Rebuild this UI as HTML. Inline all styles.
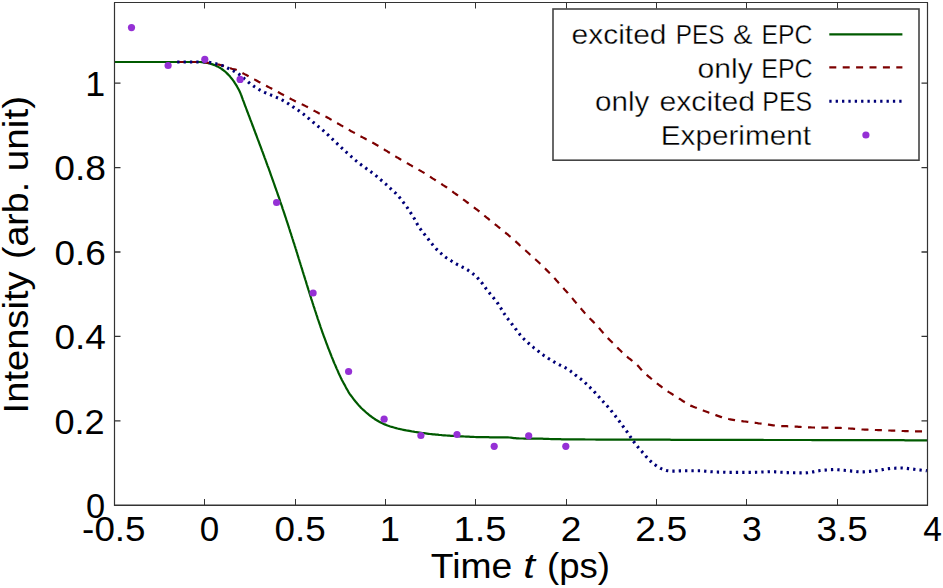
<!DOCTYPE html>
<html><head><meta charset="utf-8"><style>
html,body{margin:0;padding:0;background:#fff;}
svg{display:block;font-family:"Liberation Sans",sans-serif;}
</style></head><body>
<svg width="943" height="588" viewBox="0 0 943 588">
<rect x="0" y="0" width="943" height="588" fill="#fff"/>
<path d="M204.50 505.0v-6M204.50 2.5v6M295.50 505.0v-6M295.50 2.5v6M385.50 505.0v-6M385.50 2.5v6M475.50 505.0v-6M475.50 2.5v6M566.50 505.0v-6M566.50 2.5v6M656.50 505.0v-6M656.50 2.5v6M746.50 505.0v-6M746.50 2.5v6M837.50 505.0v-6M837.50 2.5v6" stroke="#333" stroke-width="1" fill="none"/>
<path d="M114.5 420.80h6M927.5 420.80h-6M114.5 336.40h6M927.5 336.40h-6M114.5 252.00h6M927.5 252.00h-6M114.5 167.60h6M927.5 167.60h-6M114.5 83.20h6M927.5 83.20h-6" stroke="#333" stroke-width="1.3" fill="none"/>
<defs><clipPath id="c"><rect x="114.5" y="2.6" width="813" height="502.4"/></clipPath></defs>
<g clip-path="url(#c)" fill="none" stroke-linejoin="round">
<path d="M114.5 62.0 116.3 62.0 117.6 62.0 119.0 62.0 120.5 62.0 122.0 62.0 123.5 62.0 125.0 62.0 126.5 62.0 128.0 62.0 129.5 62.0 131.0 62.0 132.5 62.0 134.0 62.0 135.5 62.0 137.0 62.0 138.5 62.0 140.0 62.0 141.5 62.0 143.0 62.0 144.5 62.0 146.0 62.0 147.5 62.0 149.0 62.0 150.5 62.0 152.0 62.0 153.5 62.0 155.0 62.0 156.5 62.0 158.0 62.0 159.5 62.0 161.0 62.0 162.5 62.0 164.0 62.0 165.5 62.0 167.0 62.0 168.5 62.0 170.0 62.0 171.5 62.0 173.0 62.0 174.5 62.0 176.0 62.0 177.5 62.0 179.0 62.0 180.5 62.0 182.0 62.0 183.5 62.0 185.0 62.0 186.5 62.0 188.0 62.0 189.5 62.0 191.0 62.0 192.5 62.0 194.0 62.0 195.5 62.0 197.0 62.0 198.5 62.0 200.0 62.0 201.5 62.1 203.0 62.2 204.5 62.4 205.9 62.7 207.4 63.0 208.9 63.3 210.3 63.7 211.8 64.1 213.2 64.6 214.6 65.1 215.9 65.7 217.3 66.4 218.6 67.1 219.9 67.8 221.2 68.6 222.4 69.5 223.6 70.4 224.8 71.3 225.9 72.3 227.0 73.4 228.0 74.4 229.1 75.5 230.1 76.6 231.0 77.8 232.0 78.9 232.9 80.1 233.8 81.3 234.6 82.6 235.4 83.8 236.2 85.1 237.0 86.4 237.7 87.7 238.4 89.0 239.1 90.3 239.8 91.7 240.4 93.1 240.9 94.4 241.5 95.8 242.0 97.3 242.5 98.7 243.0 100.1 243.6 101.5 244.1 102.9 244.6 104.3 245.1 105.7 245.7 107.1 246.2 108.5 246.7 109.9 247.2 111.3 247.8 112.7 248.3 114.1 248.8 115.5 249.4 116.9 249.9 118.3 250.4 119.7 251.0 121.1 251.5 122.5 252.0 123.9 252.5 125.3 253.1 126.7 253.6 128.1 254.1 129.5 254.7 131.0 255.2 132.4 255.7 133.8 256.3 135.2 256.8 136.6 257.3 138.0 257.8 139.4 258.4 140.8 258.9 142.2 259.4 143.6 259.9 145.0 260.5 146.4 261.0 147.8 261.5 149.2 262.0 150.6 262.6 152.0 263.1 153.4 263.6 154.8 264.1 156.2 264.6 157.6 265.2 159.1 265.7 160.5 266.2 161.9 266.7 163.3 267.2 164.7 267.7 166.1 268.3 167.5 268.8 168.9 269.3 170.3 269.8 171.7 270.3 173.1 270.8 174.6 271.3 176.0 271.8 177.4 272.3 178.8 272.8 180.2 273.3 181.6 273.8 183.0 274.3 184.4 274.8 185.9 275.3 187.3 275.8 188.7 276.3 190.1 276.8 191.5 277.3 192.9 277.8 194.4 278.3 195.8 278.8 197.2 279.3 198.6 279.8 200.0 280.2 201.5 280.7 202.9 281.2 204.3 281.7 205.7 282.2 207.1 282.6 208.6 283.1 210.0 283.6 211.4 284.1 212.8 284.5 214.2 285.0 215.7 285.5 217.1 286.0 218.5 286.4 219.9 286.9 221.4 287.4 222.8 287.8 224.2 288.3 225.6 288.8 227.1 289.2 228.5 289.7 229.9 290.1 231.4 290.6 232.8 291.1 234.2 291.5 235.6 292.0 237.1 292.4 238.5 292.9 239.9 293.3 241.4 293.8 242.8 294.3 244.2 294.7 245.6 295.2 247.1 295.6 248.5 296.1 249.9 296.5 251.4 297.0 252.8 297.4 254.2 297.8 255.7 298.3 257.1 298.7 258.5 299.2 260.0 299.6 261.4 300.1 262.8 300.5 264.3 301.0 265.7 301.4 267.1 301.9 268.6 302.3 270.0 302.7 271.4 303.2 272.9 303.6 274.3 304.1 275.7 304.5 277.2 305.0 278.6 305.4 280.0 305.9 281.4 306.3 282.9 306.7 284.3 307.2 285.7 307.6 287.2 308.1 288.6 308.5 290.0 309.0 291.5 309.4 292.9 309.9 294.3 310.3 295.8 310.8 297.2 311.2 298.6 311.7 300.1 312.2 301.5 312.6 302.9 313.1 304.3 313.5 305.8 314.0 307.2 314.5 308.6 314.9 310.0 315.4 311.5 315.9 312.9 316.3 314.3 316.8 315.7 317.3 317.2 317.7 318.6 318.2 320.0 318.7 321.4 319.2 322.9 319.7 324.3 320.2 325.7 320.6 327.1 321.1 328.5 321.6 329.9 322.1 331.4 322.6 332.8 323.1 334.2 323.6 335.6 324.1 337.0 324.7 338.4 325.2 339.8 325.7 341.2 326.2 342.6 326.7 344.0 327.3 345.4 327.8 346.8 328.3 348.3 328.9 349.6 329.4 351.0 330.0 352.4 330.5 353.8 331.1 355.2 331.6 356.6 332.2 358.0 332.8 359.4 333.3 360.8 333.9 362.2 334.5 363.6 335.1 364.9 335.7 366.3 336.3 367.7 336.9 369.1 337.5 370.4 338.1 371.8 338.7 373.2 339.3 374.5 340.0 375.9 340.6 377.3 341.2 378.6 341.9 380.0 342.6 381.3 343.3 382.6 344.0 383.9 344.8 385.2 345.5 386.6 346.2 387.9 346.9 389.2 347.7 390.5 348.4 391.8 349.2 393.1 350.0 394.3 350.9 395.5 351.8 396.7 352.7 397.9 353.6 399.1 354.5 400.3 355.5 401.5 356.4 402.6 357.4 403.7 358.4 404.9 359.4 406.0 360.4 407.1 361.5 408.2 362.6 409.2 363.6 410.2 364.8 411.2 365.9 412.2 367.0 413.2 368.2 414.2 369.3 415.1 370.5 416.0 371.7 416.9 372.9 417.8 374.2 418.6 375.4 419.5 376.7 420.2 378.0 421.0 379.3 421.8 380.6 422.5 381.9 423.1 383.3 423.8 384.7 424.4 386.1 424.9 387.5 425.5 388.9 426.0 390.3 426.5 391.7 426.9 393.2 427.3 394.6 427.7 396.1 428.1 397.5 428.5 399.0 428.8 400.4 429.2 401.9 429.5 403.4 429.8 404.8 430.1 406.3 430.4 407.8 430.6 409.3 430.9 410.7 431.2 412.2 431.5 413.7 431.7 415.2 432.0 416.6 432.2 418.1 432.4 419.6 432.6 421.1 432.8 422.6 433.0 424.1 433.2 425.6 433.4 427.0 433.6 428.5 433.8 430.0 434.0 431.5 434.1 433.0 434.3 434.5 434.4 436.0 434.6 437.5 434.7 439.0 434.9 440.5 435.0 442.0 435.2 443.5 435.3 445.0 435.4 446.5 435.5 447.9 435.6 449.4 435.7 450.9 435.8 452.4 435.9 453.9 436.0 455.4 436.0 456.9 436.1 458.4 436.2 459.9 436.3 461.4 436.4 462.9 436.4 464.4 436.5 465.9 436.6 467.4 436.7 468.9 436.7 470.4 436.8 471.9 436.9 473.4 436.9 474.9 437.0 476.4 437.1 477.9 437.1 479.4 437.1 480.9 437.2 482.4 437.2 483.9 437.2 485.4 437.2 486.9 437.2 488.4 437.2 489.9 437.3 491.4 437.3 492.9 437.3 494.4 437.3 495.9 437.3 497.4 437.3 498.9 437.3 500.4 437.3 501.9 437.4 503.4 437.4 504.9 437.4 506.4 437.4 507.9 437.4 509.4 437.5 510.9 437.7 512.4 437.9 513.9 438.1 515.3 438.2 516.8 438.4 518.3 438.4 519.8 438.5 521.3 438.5 522.8 438.5 524.3 438.6 525.8 438.6 527.3 438.6 528.8 438.6 530.3 438.6 531.8 438.6 533.3 438.6 534.8 438.7 536.3 438.7 537.8 438.7 539.3 438.7 540.8 438.7 542.3 438.7 543.8 438.8 545.3 438.8 546.8 438.9 548.3 438.9 549.8 439.0 551.3 439.1 552.8 439.1 554.3 439.2 555.8 439.2 557.3 439.2 558.8 439.2 560.3 439.2 561.8 439.3 563.3 439.3 564.8 439.3 566.3 439.3 567.8 439.3 569.3 439.3 570.8 439.3 572.3 439.3 573.8 439.4 575.3 439.4 576.8 439.4 578.3 439.4 579.8 439.4 581.3 439.4 582.8 439.4 584.3 439.4 585.8 439.5 587.3 439.5 588.8 439.5 590.3 439.5 591.8 439.5 593.3 439.5 594.8 439.5 596.3 439.6 597.8 439.6 599.3 439.6 600.8 439.6 602.3 439.6 603.8 439.6 605.3 439.6 606.8 439.6 608.3 439.6 609.8 439.6 611.3 439.6 612.8 439.6 614.3 439.6 615.8 439.6 617.3 439.6 618.8 439.6 620.3 439.6 621.8 439.6 623.3 439.6 624.8 439.7 626.3 439.7 627.8 439.7 629.3 439.7 630.8 439.7 632.3 439.7 633.8 439.7 635.3 439.7 636.8 439.7 638.3 439.7 639.8 439.7 641.3 439.7 642.8 439.7 644.3 439.7 645.8 439.7 647.3 439.7 648.8 439.7 650.3 439.7 651.8 439.7 653.3 439.7 654.8 439.7 656.3 439.7 657.8 439.7 659.3 439.7 660.8 439.7 662.3 439.7 663.8 439.7 665.3 439.7 666.8 439.7 668.3 439.7 669.8 439.7 671.3 439.8 672.8 439.8 674.3 439.8 675.8 439.8 677.3 439.8 678.8 439.8 680.3 439.8 681.8 439.8 683.3 439.8 684.8 439.8 686.3 439.8 687.8 439.8 689.3 439.8 690.8 439.8 692.3 439.8 693.8 439.8 695.3 439.8 696.8 439.8 698.3 439.8 699.8 439.8 701.3 439.8 702.8 439.8 704.3 439.8 705.8 439.8 707.3 439.8 708.8 439.8 710.3 439.8 711.8 439.8 713.3 439.8 714.8 439.8 716.3 439.8 717.8 439.9 719.3 439.9 720.8 439.9 722.3 439.9 723.8 439.9 725.3 439.9 726.8 439.9 728.3 439.9 729.8 439.9 731.3 439.9 732.8 439.9 734.3 439.9 735.8 439.9 737.3 439.9 738.8 439.9 740.3 439.9 741.8 439.9 743.3 439.9 744.8 439.9 746.3 439.9 747.8 439.9 749.3 439.9 750.8 439.9 752.3 439.9 753.8 439.9 755.3 439.9 756.8 439.9 758.3 439.9 759.8 439.9 761.3 439.9 762.8 439.9 764.3 440.0 765.8 440.0 767.3 440.0 768.8 440.0 770.3 440.0 771.8 440.0 773.3 440.0 774.8 440.0 776.3 440.0 777.8 440.0 779.3 440.0 780.8 440.0 782.3 440.0 783.8 440.0 785.3 440.0 786.8 440.0 788.3 440.0 789.8 440.0 791.3 440.0 792.8 440.0 794.3 440.0 795.8 440.0 797.3 440.0 798.8 440.0 800.3 440.0 801.8 440.0 803.3 440.0 804.8 440.0 806.3 440.0 807.8 440.0 809.3 440.0 810.8 440.0 812.3 440.1 813.8 440.1 815.3 440.1 816.8 440.1 818.3 440.1 819.8 440.1 821.3 440.1 822.8 440.1 824.3 440.1 825.8 440.1 827.3 440.1 828.8 440.1 830.3 440.1 831.8 440.1 833.3 440.1 834.8 440.1 836.3 440.1 837.8 440.1 839.3 440.1 840.8 440.1 842.3 440.1 843.8 440.1 845.3 440.1 846.8 440.1 848.3 440.1 849.8 440.1 851.3 440.1 852.8 440.1 854.3 440.1 855.8 440.1 857.3 440.1 858.8 440.2 860.3 440.2 861.8 440.2 863.3 440.2 864.8 440.2 866.3 440.2 867.8 440.2 869.3 440.2 870.8 440.2 872.3 440.2 873.8 440.2 875.3 440.2 876.8 440.2 878.3 440.2 879.8 440.2 881.3 440.2 882.8 440.2 884.3 440.2 885.8 440.2 887.3 440.2 888.8 440.2 890.3 440.2 891.8 440.2 893.3 440.2 894.8 440.2 896.3 440.2 897.8 440.2 899.3 440.2 900.8 440.2 902.3 440.2 903.8 440.2 905.3 440.3 906.8 440.3 908.3 440.3 909.8 440.3 911.3 440.3 912.8 440.3 914.3 440.3 915.8 440.3 917.3 440.3 918.8 440.3 920.3 440.3 921.8 440.3 923.3 440.3 924.7 440.3 925.9 440.3 927.5 440.3" stroke="#005a00" stroke-width="2.2"/>
<path d="M177.2 62.0 178.8 62.0 180.2 62.0 181.7 62.0 183.2 62.0 184.7 62.0 186.2 62.0 187.7 62.0 189.2 62.0 190.7 62.0 192.2 62.0 193.7 62.0 195.2 62.0 196.7 62.0 198.2 62.0 199.7 62.0 201.2 62.0 202.7 62.0 204.2 62.1 205.7 62.3 207.1 62.6 208.6 62.9 210.1 63.1 211.5 63.4 213.0 63.6 214.5 63.9 216.0 64.1 217.5 64.4 218.9 64.6 220.4 65.0 221.8 65.4 223.3 65.9 224.7 66.3 226.1 66.8 227.5 67.3 228.9 67.8 230.4 68.2 231.8 68.7 233.2 69.1 234.7 69.4 236.1 69.8 237.5 70.4 238.8 71.1 240.1 71.8 241.5 72.5 242.8 73.2 244.1 73.9 245.4 74.6 246.8 75.3 248.1 76.0 249.4 76.8 250.7 77.5 252.0 78.2 253.4 78.9 254.7 79.6 256.0 80.3 257.3 81.0 258.6 81.7 260.0 82.4 261.3 83.1 262.6 83.9 263.9 84.6 265.2 85.3 266.6 86.0 267.9 86.7 269.2 87.4 270.5 88.1 271.9 88.8 273.2 89.5 274.5 90.2 275.8 90.9 277.2 91.6 278.5 92.3 279.8 93.0 281.1 93.7 282.5 94.4 283.8 95.2 285.1 95.9 286.4 96.6 287.7 97.3 289.1 98.0 290.4 98.7 291.7 99.4 293.0 100.1 294.4 100.8 295.7 101.4 297.1 102.1 298.4 102.7 299.8 103.3 301.2 104.0 302.5 104.6 303.9 105.2 305.2 105.9 306.5 106.6 307.9 107.3 309.2 108.0 310.5 108.8 311.8 109.5 313.1 110.2 314.5 110.9 315.8 111.6 317.1 112.3 318.4 113.0 319.8 113.7 321.1 114.3 322.5 115.0 323.8 115.7 325.1 116.4 326.5 117.0 327.8 117.7 329.1 118.4 330.4 119.2 331.7 119.9 333.0 120.7 334.3 121.4 335.6 122.2 336.9 122.9 338.2 123.7 339.5 124.4 340.8 125.2 342.1 125.9 343.4 126.7 344.7 127.4 346.0 128.2 347.3 128.9 348.6 129.7 349.9 130.4 351.2 131.2 352.5 131.9 353.8 132.6 355.2 133.3 356.5 134.1 357.8 134.8 359.1 135.5 360.4 136.2 361.8 136.9 363.1 137.6 364.4 138.3 365.7 139.0 367.1 139.7 368.4 140.5 369.7 141.2 371.0 141.9 372.3 142.6 373.7 143.3 375.0 144.0 376.3 144.8 377.6 145.5 378.9 146.3 380.1 147.1 381.4 147.8 382.7 148.6 384.0 149.4 385.3 150.2 386.6 150.9 387.8 151.7 389.1 152.5 390.4 153.3 391.7 154.1 393.0 154.8 394.3 155.6 395.5 156.4 396.8 157.2 398.1 157.9 399.4 158.7 400.7 159.5 402.0 160.2 403.3 161.0 404.6 161.7 405.9 162.4 407.2 163.2 408.5 163.9 409.8 164.7 411.1 165.4 412.4 166.2 413.7 166.9 415.0 167.7 416.3 168.4 417.6 169.1 418.9 169.9 420.2 170.6 421.5 171.4 422.8 172.1 424.1 172.9 425.4 173.7 426.6 174.5 427.9 175.3 429.2 176.1 430.4 176.9 431.7 177.8 432.9 178.6 434.2 179.4 435.5 180.2 436.7 181.0 438.0 181.8 439.3 182.6 440.5 183.4 441.8 184.2 443.0 185.1 444.3 185.9 445.6 186.7 446.8 187.5 448.0 188.4 449.3 189.2 450.5 190.1 451.7 191.0 452.9 191.9 454.1 192.8 455.3 193.6 456.5 194.5 457.8 195.4 459.0 196.3 460.2 197.2 461.4 198.1 462.6 198.9 463.8 199.8 465.0 200.7 466.2 201.6 467.4 202.5 468.6 203.4 469.8 204.3 471.0 205.2 472.2 206.1 473.4 207.0 474.6 207.9 475.8 208.8 477.0 209.7 478.2 210.6 479.4 211.5 480.6 212.5 481.7 213.4 482.9 214.4 484.0 215.4 485.2 216.3 486.3 217.3 487.5 218.2 488.7 219.2 489.8 220.1 491.0 221.1 492.2 222.0 493.3 222.9 494.5 223.9 495.7 224.8 496.9 225.7 498.0 226.7 499.2 227.6 500.4 228.5 501.6 229.5 502.7 230.4 503.9 231.4 505.0 232.3 506.2 233.3 507.3 234.2 508.5 235.2 509.6 236.2 510.8 237.1 511.9 238.1 513.1 239.1 514.2 240.1 515.3 241.1 516.4 242.1 517.5 243.1 518.6 244.1 519.7 245.2 520.8 246.2 521.9 247.2 523.0 248.2 524.1 249.2 525.3 250.2 526.4 251.2 527.5 252.2 528.6 253.2 529.7 254.3 530.8 255.3 531.9 256.3 533.0 257.3 534.1 258.3 535.3 259.3 536.4 260.3 537.5 261.3 538.6 262.3 539.7 263.3 540.8 264.3 541.9 265.3 543.0 266.4 544.0 267.4 545.1 268.5 546.2 269.6 547.2 270.6 548.3 271.7 549.3 272.7 550.4 273.8 551.4 274.9 552.5 276.0 553.5 277.1 554.5 278.2 555.5 279.3 556.5 280.5 557.5 281.6 558.5 282.7 559.5 283.8 560.5 284.9 561.5 286.0 562.5 287.1 563.5 288.2 564.5 289.4 565.5 290.5 566.5 291.6 567.6 292.7 568.5 293.8 569.5 294.9 570.5 296.1 571.4 297.2 572.4 298.4 573.4 299.6 574.3 300.7 575.3 301.9 576.2 303.0 577.2 304.2 578.2 305.3 579.2 306.4 580.1 307.6 581.1 308.7 582.1 309.9 583.1 311.0 584.0 312.1 585.0 313.3 586.0 314.4 587.0 315.5 588.0 316.6 589.1 317.7 590.1 318.7 591.2 319.8 592.3 320.9 593.3 321.9 594.4 323.0 595.4 324.0 596.5 325.1 597.5 326.2 598.5 327.3 599.5 328.5 600.4 329.6 601.4 330.8 602.4 331.9 603.3 333.1 604.3 334.2 605.3 335.4 606.3 336.5 607.3 337.5 608.4 338.6 609.5 339.7 610.5 340.7 611.6 341.8 612.6 342.8 613.7 343.9 614.8 345.0 615.8 346.0 616.9 347.1 617.9 348.1 619.0 349.2 620.1 350.3 621.1 351.3 622.2 352.4 623.3 353.4 624.3 354.5 625.5 355.5 626.6 356.4 627.8 357.3 629.0 358.3 630.2 359.2 631.3 360.1 632.5 361.1 633.7 362.0 634.9 362.9 636.0 363.9 637.1 364.9 638.1 366.0 639.1 367.1 640.1 368.3 641.1 369.4 642.1 370.5 643.1 371.6 644.2 372.6 645.3 373.6 646.5 374.6 647.6 375.6 648.7 376.6 649.9 377.5 651.0 378.5 652.1 379.5 653.3 380.5 654.4 381.4 655.6 382.4 656.8 383.3 658.0 384.2 659.2 385.1 660.4 386.0 661.6 386.9 662.8 387.8 664.0 388.7 665.2 389.6 666.4 390.4 667.7 391.3 668.9 392.1 670.2 392.9 671.5 393.7 672.7 394.5 674.0 395.3 675.3 396.1 676.5 396.9 677.8 397.7 679.0 398.5 680.3 399.3 681.6 400.1 682.8 401.0 684.1 401.8 685.4 402.6 686.6 403.4 687.9 404.2 689.2 404.9 690.5 405.6 691.9 406.1 693.3 406.7 694.7 407.3 696.1 407.8 697.5 408.4 698.9 408.9 700.3 409.5 701.7 410.0 703.1 410.5 704.5 411.0 705.9 411.5 707.3 412.0 708.7 412.6 710.1 413.1 711.6 413.6 713.0 414.1 714.4 414.6 715.8 415.1 717.2 415.6 718.6 416.1 720.0 416.6 721.5 417.1 722.9 417.6 724.3 418.0 725.8 418.3 727.2 418.6 728.7 419.0 730.2 419.3 731.6 419.6 733.1 419.9 734.6 420.2 736.0 420.5 737.5 420.8 739.0 421.0 740.5 421.1 742.0 421.2 743.5 421.4 745.0 421.5 746.5 421.7 748.0 421.8 749.4 422.0 750.9 422.1 752.4 422.3 753.9 422.6 755.4 422.8 756.9 423.0 758.4 423.3 759.8 423.5 761.3 423.7 762.8 423.9 764.3 424.2 765.8 424.4 767.3 424.5 768.7 424.7 770.2 424.9 771.7 425.1 773.2 425.3 774.7 425.5 776.2 425.7 777.7 425.8 779.2 425.9 780.7 426.0 782.2 426.1 783.7 426.1 785.2 426.2 786.7 426.2 788.2 426.3 789.7 426.3 791.2 426.4 792.7 426.5 794.2 426.6 795.7 426.6 797.2 426.7 798.7 426.8 800.2 426.9 801.6 427.0 803.1 427.1 804.6 427.2 806.1 427.2 807.6 427.3 809.1 427.3 810.6 427.4 812.1 427.5 813.6 427.5 815.1 427.6 816.6 427.6 818.1 427.7 819.6 427.7 821.1 427.7 822.6 427.7 824.1 427.7 825.6 427.7 827.1 427.7 828.6 427.7 830.1 427.7 831.6 427.7 833.1 427.7 834.6 427.8 836.1 427.8 837.6 427.9 839.1 427.9 840.6 427.9 842.1 428.0 843.6 428.0 845.1 428.1 846.6 428.2 848.1 428.3 849.6 428.5 851.1 428.6 852.6 428.7 854.1 428.9 855.6 429.0 857.1 429.2 858.6 429.3 860.1 429.4 861.6 429.5 863.1 429.5 864.6 429.6 866.1 429.6 867.6 429.7 869.1 429.8 870.6 429.8 872.1 429.9 873.6 429.9 875.1 430.0 876.6 430.0 878.1 430.1 879.6 430.1 881.1 430.2 882.6 430.2 884.0 430.3 885.5 430.4 887.0 430.4 888.5 430.5 890.0 430.5 891.5 430.6 893.0 430.6 894.5 430.7 896.0 430.7 897.5 430.8 899.0 430.9 900.5 430.9 902.0 431.0 903.5 431.0 905.0 431.1 906.5 431.1 908.0 431.2 909.5 431.2 911.0 431.3 912.5 431.3 914.0 431.4 915.5 431.4 917.0 431.4 918.5 431.4 920.0 431.4 921.5 431.4 923.0 431.4 924.5 431.4 925.9 431.4 927.5 431.4" stroke="#7d0000" stroke-width="2.2" stroke-dasharray="7 6.4"/>
<path d="M177.2 62.0 179.0 62.0 180.3 62.0 181.7 62.0 183.2 62.0 184.7 62.0 186.2 62.0 187.7 62.0 189.2 62.0 190.7 62.0 192.2 62.0 193.7 62.0 195.2 62.0 196.7 62.0 198.2 62.0 199.7 62.0 201.2 62.0 202.7 62.0 204.2 62.0 205.7 62.1 207.2 62.1 208.7 62.3 210.2 62.5 211.6 62.8 213.1 63.1 214.5 63.5 216.0 63.8 217.5 64.2 218.9 64.6 220.3 64.9 221.8 65.4 223.2 65.9 224.5 66.5 225.9 67.2 227.2 67.9 228.6 68.5 229.9 69.2 231.2 69.9 232.6 70.6 233.9 71.2 235.2 72.0 236.5 72.7 237.8 73.4 239.1 74.3 240.3 75.2 241.4 76.1 242.6 77.1 243.7 78.1 244.8 79.1 246.0 80.0 247.1 81.0 248.2 82.0 249.4 82.9 250.6 83.9 251.8 84.7 253.0 85.6 254.2 86.5 255.5 87.3 256.8 88.1 258.0 88.9 259.3 89.7 260.6 90.4 261.9 91.1 263.3 91.8 264.6 92.4 266.0 93.0 267.4 93.6 268.8 94.1 270.2 94.7 271.6 95.3 273.0 95.8 274.3 96.4 275.7 97.0 277.1 97.6 278.5 98.2 279.8 98.8 281.2 99.5 282.5 100.2 283.8 100.9 285.1 101.7 286.3 102.5 287.6 103.3 288.9 104.1 290.1 105.0 291.4 105.8 292.6 106.6 293.9 107.4 295.1 108.3 296.4 109.1 297.6 109.9 298.9 110.8 300.1 111.7 301.3 112.5 302.5 113.4 303.7 114.3 304.9 115.3 306.0 116.2 307.2 117.2 308.3 118.2 309.5 119.1 310.6 120.1 311.8 121.0 312.9 122.0 314.1 122.9 315.3 123.9 316.4 124.8 317.6 125.8 318.7 126.8 319.9 127.7 321.0 128.7 322.2 129.6 323.3 130.6 324.4 131.6 325.5 132.7 326.6 133.7 327.7 134.7 328.8 135.7 329.9 136.8 331.0 137.8 332.1 138.8 333.2 139.9 334.2 140.9 335.3 141.9 336.4 142.9 337.5 144.0 338.6 145.0 339.7 146.0 340.8 147.1 341.9 148.1 343.0 149.1 344.1 150.1 345.2 151.2 346.3 152.2 347.4 153.2 348.5 154.1 349.7 155.1 350.8 156.1 351.9 157.1 353.1 158.1 354.2 159.1 355.3 160.1 356.5 161.1 357.6 162.0 358.7 163.0 359.9 163.9 361.1 164.8 362.3 165.7 363.6 166.6 364.8 167.4 366.0 168.3 367.2 169.2 368.4 170.1 369.7 170.9 370.9 171.8 372.1 172.7 373.3 173.6 374.5 174.5 375.6 175.4 376.8 176.4 377.9 177.4 379.1 178.4 380.2 179.3 381.3 180.3 382.5 181.3 383.6 182.3 384.7 183.3 385.9 184.2 387.0 185.2 388.1 186.3 389.2 187.3 390.3 188.3 391.4 189.3 392.5 190.4 393.6 191.4 394.7 192.4 395.8 193.4 396.8 194.5 397.9 195.6 398.9 196.7 399.8 197.8 400.7 199.0 401.6 200.2 402.6 201.4 403.5 202.6 404.4 203.8 405.3 205.0 406.2 206.2 407.1 207.4 407.9 208.6 408.7 209.9 409.6 211.1 410.4 212.4 411.2 213.6 412.1 214.9 412.9 216.1 413.6 217.4 414.4 218.7 415.1 220.0 415.8 221.4 416.5 222.7 417.2 224.0 418.0 225.3 418.7 226.6 419.5 227.9 420.4 229.1 421.3 230.3 422.2 231.5 423.1 232.7 424.0 233.8 425.0 235.0 425.9 236.2 426.8 237.4 427.8 238.5 428.7 239.7 429.6 240.9 430.6 242.1 431.5 243.2 432.4 244.4 433.4 245.6 434.3 246.7 435.3 247.9 436.3 249.0 437.4 250.0 438.5 251.0 439.6 252.1 440.7 253.1 441.8 254.1 442.9 255.1 444.1 256.1 445.2 257.0 446.4 257.8 447.7 258.6 449.0 259.4 450.3 260.2 451.5 261.0 452.8 261.8 454.1 262.6 455.4 263.3 456.7 264.1 458.0 264.8 459.4 265.4 460.7 266.1 462.0 266.8 463.4 267.5 464.7 268.1 466.0 268.9 467.3 269.7 468.5 270.6 469.7 271.4 470.9 272.3 472.1 273.2 473.3 274.1 474.5 275.0 475.7 276.0 476.8 277.0 477.8 278.1 478.8 279.2 479.7 280.3 480.7 281.5 481.7 282.7 482.6 283.8 483.5 285.0 484.4 286.2 485.3 287.5 486.1 288.7 487.0 289.9 487.9 291.1 488.8 292.3 489.8 293.4 490.7 294.6 491.7 295.7 492.7 296.9 493.6 298.0 494.6 299.2 495.5 300.4 496.4 301.5 497.3 302.7 498.2 304.0 499.0 305.3 499.8 306.5 500.6 307.8 501.4 309.1 502.1 310.3 502.9 311.6 503.7 312.9 504.5 314.1 505.4 315.4 506.2 316.6 507.1 317.8 508.0 319.0 509.0 320.2 509.9 321.4 510.8 322.6 511.7 323.8 512.6 325.0 513.5 326.2 514.4 327.3 515.3 328.5 516.3 329.7 517.2 330.9 518.1 332.1 519.0 333.3 519.9 334.5 520.9 335.6 521.8 336.8 522.8 337.9 523.9 339.0 524.9 340.0 526.1 341.0 527.2 342.0 528.3 343.0 529.4 344.0 530.5 345.0 531.7 346.0 532.8 346.9 534.0 347.9 535.2 348.8 536.4 349.7 537.6 350.6 538.7 351.5 539.9 352.5 541.1 353.4 542.3 354.3 543.5 355.2 544.8 356.0 546.0 356.8 547.3 357.6 548.5 358.5 549.8 359.3 551.1 360.1 552.3 360.9 553.6 361.7 554.9 362.4 556.2 363.2 557.5 363.9 558.9 364.5 560.2 365.2 561.6 365.9 562.9 366.5 564.2 367.2 565.6 367.9 566.9 368.6 568.2 369.4 569.4 370.2 570.6 371.1 571.7 372.1 572.9 373.0 574.1 373.9 575.3 374.9 576.5 375.8 577.7 376.7 578.9 377.6 580.1 378.5 581.3 379.4 582.4 380.3 583.6 381.3 584.7 382.3 585.8 383.3 586.9 384.3 587.9 385.4 589.0 386.4 590.1 387.5 591.1 388.6 592.2 389.6 593.2 390.7 594.3 391.8 595.3 392.9 596.3 394.0 597.3 395.1 598.3 396.2 599.3 397.3 600.3 398.5 601.3 399.6 602.3 400.7 603.3 401.8 604.3 402.9 605.4 404.0 606.4 405.1 607.4 406.2 608.4 407.3 609.4 408.4 610.4 409.6 611.3 410.8 612.2 411.9 613.1 413.1 614.0 414.3 615.0 415.5 615.9 416.7 616.8 417.9 617.7 419.1 618.6 420.3 619.5 421.5 620.4 422.7 621.3 423.9 622.1 425.1 623.0 426.3 623.9 427.5 624.8 428.7 625.7 430.0 626.6 431.2 627.5 432.4 628.3 433.6 629.2 434.8 630.0 436.1 630.8 437.3 631.7 438.6 632.5 439.8 633.3 441.1 634.2 442.3 635.1 443.5 636.0 444.7 637.0 445.8 637.9 447.0 638.9 448.1 639.9 449.3 640.9 450.4 641.9 451.5 642.8 452.7 643.8 453.8 644.8 454.9 645.8 456.1 646.8 457.2 647.8 458.3 648.8 459.4 649.8 460.5 650.9 461.5 652.0 462.5 653.2 463.4 654.4 464.3 655.6 465.2 656.8 466.1 658.1 466.9 659.4 467.6 660.7 468.3 662.0 469.0 663.4 469.6 664.8 470.1 666.2 470.5 667.7 470.7 669.2 470.9 670.7 471.0 672.2 471.1 673.7 471.1 675.2 471.1 676.7 471.0 678.2 471.0 679.7 470.9 681.2 470.9 682.7 470.9 684.2 470.8 685.7 470.8 687.2 470.7 688.7 470.7 690.2 470.7 691.7 470.7 693.2 470.7 694.7 470.7 696.2 470.7 697.7 470.7 699.2 470.7 700.7 470.7 702.1 470.8 703.6 470.9 705.1 471.1 706.6 471.2 708.1 471.4 709.6 471.5 711.1 471.7 712.6 471.8 714.1 471.9 715.6 472.0 717.1 472.0 718.6 472.1 720.1 472.1 721.6 472.1 723.1 472.2 724.6 472.2 726.1 472.3 727.6 472.3 729.1 472.4 730.6 472.4 732.1 472.4 733.6 472.4 735.1 472.4 736.6 472.4 738.1 472.4 739.6 472.4 741.1 472.4 742.6 472.4 744.1 472.4 745.6 472.4 747.1 472.4 748.6 472.4 750.1 472.4 751.6 472.4 753.1 472.4 754.6 472.4 756.1 472.3 757.6 472.3 759.1 472.2 760.6 472.1 762.1 472.0 763.6 472.0 765.1 471.9 766.6 471.8 768.1 471.7 769.6 471.7 771.1 471.7 772.6 471.8 774.1 471.8 775.6 471.9 777.1 472.0 778.5 472.1 780.0 472.2 781.5 472.3 783.0 472.4 784.5 472.5 786.0 472.6 787.5 472.6 789.0 472.7 790.5 472.7 792.0 472.8 793.5 472.8 795.0 472.8 796.5 472.8 798.0 472.9 799.5 472.9 801.0 472.9 802.5 472.9 804.0 472.9 805.5 472.9 807.0 472.8 808.5 472.6 810.0 472.4 811.5 472.1 812.9 471.9 814.4 471.6 815.9 471.3 817.4 471.0 818.8 470.8 820.3 470.5 821.8 470.3 823.3 470.2 824.8 470.1 826.3 470.0 827.8 469.9 829.3 469.7 830.8 469.6 832.3 469.6 833.8 469.5 835.2 469.6 836.7 469.7 838.2 469.8 839.7 469.9 841.2 470.1 842.7 470.2 844.2 470.3 845.7 470.5 847.2 470.6 848.7 470.8 850.2 470.9 851.7 471.1 853.2 471.2 854.7 471.4 856.1 471.5 857.6 471.7 859.1 471.8 860.6 471.9 862.1 471.9 863.6 471.9 865.1 471.8 866.6 471.7 868.1 471.5 869.6 471.4 871.1 471.3 872.6 471.1 874.1 471.0 875.6 470.8 877.0 470.6 878.5 470.4 880.0 470.1 881.5 469.9 883.0 469.6 884.4 469.3 885.9 469.0 887.4 468.8 888.9 468.6 890.3 468.4 891.8 468.3 893.3 468.2 894.8 468.2 896.3 468.1 897.8 468.1 899.3 468.0 900.8 468.0 902.3 468.0 903.8 468.1 905.3 468.3 906.8 468.4 908.3 468.6 909.8 468.8 911.3 469.0 912.8 469.1 914.2 469.3 915.7 469.5 917.2 469.7 918.7 469.8 920.2 470.0 921.7 470.2 923.2 470.4 924.5 470.5 925.6 470.6 926.9 470.8" stroke="#000078" stroke-width="3.1" stroke-dasharray="2.3 4.06"/>
</g>
<circle cx="131.5" cy="27.6" r="3.6" fill="#9530d5"/>
<circle cx="168.1" cy="65.5" r="3.6" fill="#9530d5"/>
<circle cx="204.8" cy="59.3" r="3.6" fill="#9530d5"/>
<circle cx="240.1" cy="79.4" r="3.6" fill="#9530d5"/>
<circle cx="276.6" cy="202.5" r="3.6" fill="#9530d5"/>
<circle cx="313.1" cy="293" r="3.6" fill="#9530d5"/>
<circle cx="348.6" cy="371.5" r="3.6" fill="#9530d5"/>
<circle cx="384.1" cy="419.2" r="3.6" fill="#9530d5"/>
<circle cx="420.9" cy="435.5" r="3.6" fill="#9530d5"/>
<circle cx="457" cy="434.5" r="3.6" fill="#9530d5"/>
<circle cx="494.2" cy="446.3" r="3.6" fill="#9530d5"/>
<circle cx="528.7" cy="435.8" r="3.6" fill="#9530d5"/>
<circle cx="565.8" cy="446.3" r="3.6" fill="#9530d5"/>
<path d="M114.5 2.5V505.9M927.5 2.5V505.9M114.0 2.5H928.0" fill="none" stroke="#333" stroke-width="1.2"/>
<path d="M114.0 505.2H928.0" fill="none" stroke="#333" stroke-width="1.4"/>
<rect x="553" y="9" width="366" height="151.2" fill="#fff" stroke="#444" stroke-width="1.6"/>
<line x1="829.3" y1="34.3" x2="902.4" y2="34.3" stroke="#005a00" stroke-width="2.2"/>
<line x1="829.3" y1="67.3" x2="902.4" y2="67.3" stroke="#7d0000" stroke-width="2.2" stroke-dasharray="7 6.4"/>
<line x1="829.3" y1="101.2" x2="902.4" y2="101.2" stroke="#000078" stroke-width="3.1" stroke-dasharray="2.3 4.06"/>
<circle cx="865.9" cy="135.0" r="3.6" fill="#9530d5"/>
<g font-family="Liberation Sans, sans-serif" fill="#000">
<text x="571.54" y="43.80" font-size="27.6" textLength="94.97" lengthAdjust="spacingAndGlyphs" stroke="#fff" stroke-width="0.35">excited</text>
<text x="675.72" y="43.80" font-size="27.6" textLength="48.68" lengthAdjust="spacingAndGlyphs" stroke="#fff" stroke-width="0.35">PES</text>
<text x="733.14" y="43.80" font-size="27.6" textLength="19.49" lengthAdjust="spacingAndGlyphs" stroke="#fff" stroke-width="0.35">&amp;</text>
<text x="761.58" y="43.80" font-size="27.6" textLength="50.93" lengthAdjust="spacingAndGlyphs" stroke="#fff" stroke-width="0.35">EPC</text>
<text x="697.53" y="77.50" font-size="27.6" textLength="55.31" lengthAdjust="spacingAndGlyphs" stroke="#fff" stroke-width="0.35">only</text>
<text x="761.26" y="77.50" font-size="27.6" textLength="51.36" lengthAdjust="spacingAndGlyphs" stroke="#fff" stroke-width="0.35">EPC</text>
<text x="595.06" y="110.80" font-size="27.6" textLength="54.28" lengthAdjust="spacingAndGlyphs" stroke="#fff" stroke-width="0.35">only</text>
<text x="659.53" y="110.80" font-size="27.6" textLength="95.59" lengthAdjust="spacingAndGlyphs" stroke="#fff" stroke-width="0.35">excited</text>
<text x="762.37" y="110.80" font-size="27.6" textLength="49.86" lengthAdjust="spacingAndGlyphs" stroke="#fff" stroke-width="0.35">PES</text>
<text x="660.78" y="144.50" font-size="27.6" textLength="150.21" lengthAdjust="spacingAndGlyphs" stroke="#fff" stroke-width="0.35">Experiment</text>
<text x="85.99" y="518.00" font-size="35.5" textLength="19.11" lengthAdjust="spacingAndGlyphs">0</text>
<text x="54.43" y="433.60" font-size="35.5" textLength="50.25" lengthAdjust="spacingAndGlyphs">0.2</text>
<text x="54.40" y="349.20" font-size="35.5" textLength="51.45" lengthAdjust="spacingAndGlyphs">0.4</text>
<text x="54.40" y="264.80" font-size="35.5" textLength="51.36" lengthAdjust="spacingAndGlyphs">0.6</text>
<text x="54.19" y="180.40" font-size="35.5" textLength="51.79" lengthAdjust="spacingAndGlyphs">0.8</text>
<text x="85.22" y="96.00" font-size="35.5" textLength="19.94" lengthAdjust="spacingAndGlyphs">1</text>
<text x="82.14" y="540.60" font-size="35.5" textLength="63.43" lengthAdjust="spacingAndGlyphs">-0.5</text>
<text x="199.87" y="540.60" font-size="35.5" textLength="19.46" lengthAdjust="spacingAndGlyphs">0</text>
<text x="274.50" y="540.60" font-size="35.5" textLength="51.26" lengthAdjust="spacingAndGlyphs">0.5</text>
<text x="379.69" y="540.60" font-size="35.5" textLength="20.20" lengthAdjust="spacingAndGlyphs">1</text>
<text x="453.55" y="540.60" font-size="35.5" textLength="52.97" lengthAdjust="spacingAndGlyphs">1.5</text>
<text x="560.67" y="540.60" font-size="35.5" textLength="20.65" lengthAdjust="spacingAndGlyphs">2</text>
<text x="635.36" y="540.60" font-size="35.5" textLength="51.82" lengthAdjust="spacingAndGlyphs">2.5</text>
<text x="741.95" y="540.60" font-size="35.5" textLength="19.74" lengthAdjust="spacingAndGlyphs">3</text>
<text x="816.60" y="540.60" font-size="35.5" textLength="51.26" lengthAdjust="spacingAndGlyphs">3.5</text>
<text x="923.19" y="540.60" font-size="35.5" textLength="18.65" lengthAdjust="spacingAndGlyphs">4</text>
<text x="430.88" y="578.20" font-size="34.3" textLength="81.45" lengthAdjust="spacingAndGlyphs">Time</text>
<text x="523.15" y="578.20" font-size="34.3" textLength="11.74" lengthAdjust="spacingAndGlyphs" font-style="italic">t</text>
<text x="546.97" y="578.20" font-size="34.3" textLength="62.93" lengthAdjust="spacingAndGlyphs">(ps)</text>
<g transform="translate(27.6,409.8) rotate(-90)"><text x="-3.61" y="0.00" font-size="34.3" textLength="141.96" lengthAdjust="spacingAndGlyphs">Intensity</text><text x="150.81" y="0.00" font-size="34.3" textLength="77.09" lengthAdjust="spacingAndGlyphs">(arb.</text><text x="238.56" y="0.00" font-size="34.3" textLength="75.35" lengthAdjust="spacingAndGlyphs">unit)</text></g>
</g>
</svg>
</body></html>
